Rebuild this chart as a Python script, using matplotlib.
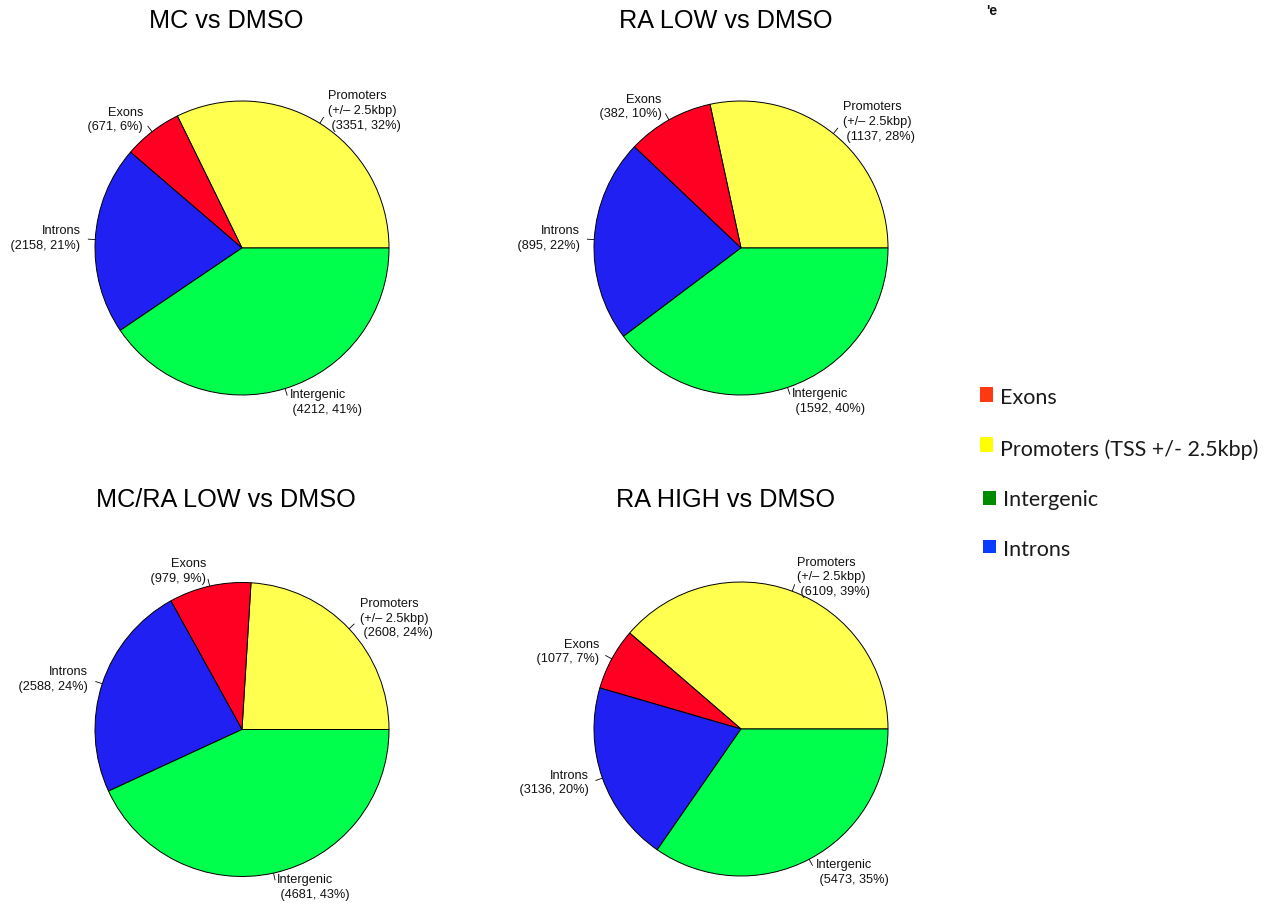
import matplotlib
matplotlib.use("Agg")
import matplotlib.pyplot as plt
from matplotlib.patches import Rectangle
import numpy as np

# Genomic annotation of peaks, per comparison (counter-clockwise from 3 o'clock)
categories = ["Promoters", "Exons", "Introns", "Intergenic"]
slice_names = ["Promoters\n(+/\u2013 2.5kbp)", "Exons", "Introns", "Intergenic"]
titles = ["MC vs DMSO", "RA LOW vs DMSO", "MC/RA LOW vs DMSO", "RA HIGH vs DMSO"]
mc_counts = [3351, 671, 2158, 4212]
ra_low_counts = [1137, 382, 895, 1592]
mc_ra_low_counts = [2608, 979, 2588, 4681]
ra_high_counts = [6109, 1077, 3136, 5473]
pie_colors = ["#FFFF50", "#FF0022", "#2020F2", "#00FF4C"]

legend_labels = ["Exons", "Promoters (TSS +/- 2.5kbp)", "Intergenic", "Introns"]
legend_colors = ["#FF3A12", "#FFFF00", "#008A00", "#0A3CFF"]

W, H = 1277, 905
fig = plt.figure(figsize=(W / 100, H / 100), dpi=100)
fig.patch.set_facecolor("white")

R = 147.0   # pie radius in pixels
S = 210.0   # half-size of each pie's axes in pixels
LABEL_FONT = "Liberation Sans"


def fx(px):
    return px / W


def fy(py):
    return 1 - py / H


def draw_pie(cx, cy, counts, title, title_x, title_base):
    ax = fig.add_axes([(cx - S) / W, (H - cy - S) / H, 2 * S / W, 2 * S / H])
    wedges, _ = ax.pie(counts, colors=pie_colors, startangle=0, counterclock=True,
                       radius=1.0,
                       wedgeprops=dict(edgecolor="black", linewidth=0.7))
    ax.set_xlim(-S / R, S / R)
    ax.set_ylim(-S / R, S / R)
    ax.set_aspect("equal")
    ax.axis("off")
    total = float(sum(counts))
    for w, name, n in zip(wedges, slice_names, counts):
        th = np.deg2rad((w.theta1 + w.theta2) / 2)
        x, y = np.cos(th), np.sin(th)
        ax.plot([x, 1.05 * x], [y, 1.05 * y], color="black", lw=0.6,
                solid_capstyle="butt", clip_on=False)
        pct = int(round(100 * n / total))
        ha = "left" if x >= 0 else "right"
        ax.text(1.1 * x, 1.1 * y, f"{name}\n ({n}, {pct}%)", ha=ha, va="center",
                multialignment=ha, fontsize=9.2, family=LABEL_FONT,
                linespacing=1.3, color="#111111", clip_on=False)
    fig.text(fx(title_x), fy(title_base), title, ha="center", va="baseline",
             fontsize=18.2, family=LABEL_FONT, color="black")


draw_pie(242, 248, mc_counts, titles[0], 226.5, 28)
draw_pie(741, 248, ra_low_counts, titles[1], 726, 28.5)
draw_pie(242, 729.5, mc_ra_low_counts, titles[2], 225.5, 506.5)
draw_pie(741, 729, ra_high_counts, titles[3], 726, 506.5)

# Stray fragment of text at the top
fig.text(fx(986), fy(15), "'e", ha="left", va="baseline", fontsize=10,
         fontweight="bold", family=LABEL_FONT, color="#111111")

# Legend drawn as coloured squares with labels
legend_boxes = [(980, 387, 13, 15), (980, 437, 13, 15), (983, 491, 13, 14), (983, 540, 13, 13)]
legend_text_pos = [(1000, 404), (1000, 456), (1003, 506), (1003, 556)]
for (bx, by, bw, bh), col in zip(legend_boxes, legend_colors):
    fig.patches.append(Rectangle((fx(bx), fy(by + bh)), bw / W, bh / H,
                                 transform=fig.transFigure, facecolor=col,
                                 edgecolor="none"))
for (tx, ty), lab in zip(legend_text_pos, legend_labels):
    fig.text(fx(tx), fy(ty), lab, ha="left", va="baseline", fontsize=15.5,
             family="Lato", color="#1a1a1a")

fig.savefig("out.png", dpi=100, facecolor="white")
